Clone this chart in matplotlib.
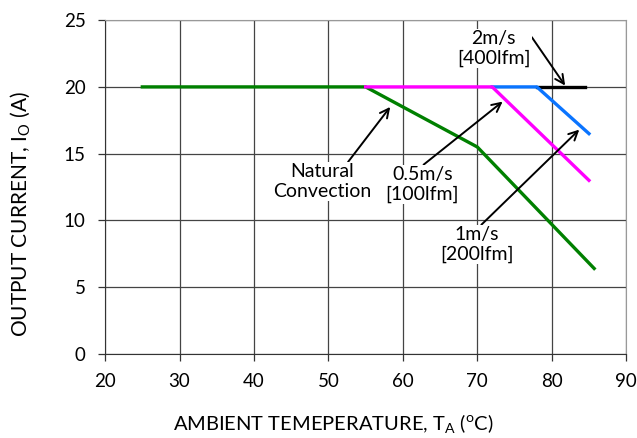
import numpy as np
import matplotlib.pyplot as plt

plt.rcParams['font.family'] = ['Lato', 'DejaVu Sans']
plt.rcParams['mathtext.fontset'] = 'custom'
plt.rcParams['mathtext.rm'] = 'Lato'

# derating curves: ambient temperature (C) vs max output current (A)
nat_t = [25, 55, 70, 85.7]
nat_i = [20, 20, 15.5, 6.4]
ms05_t = [55, 72, 85]
ms05_i = [20, 20, 13]
ms1_t = [72, 78, 85]
ms1_i = [20, 20, 16.5]
ms2_t = [78, 84.5]
ms2_i = [20, 20]

x_ticks = np.arange(20, 91, 10)
y_ticks = np.arange(0, 26, 5)

fig = plt.figure(figsize=(6.37, 4.38), dpi=100)
ax = fig.add_axes([0.165, 0.192, 0.818, 0.762])

ax.plot(nat_t, nat_i, color='#008000', lw=2.4, zorder=3)
ax.plot(ms2_t, ms2_i, color='black', lw=2.4, zorder=3)
ax.plot(ms1_t, ms1_i, color='#0a74ff', lw=2.4, zorder=3)
ax.plot(ms05_t, ms05_i, color='#ff00ff', lw=2.4, zorder=3)

ax.set_xlim(20, 90)
ax.set_ylim(0, 25)
ax.set_xticks(x_ticks)
ax.set_yticks(y_ticks)
ax.grid(True, color='#444444', lw=0.9)
ax.tick_params(labelsize=13.5, length=5, width=0.9, color='#333333', pad=9)
for side in ['top', 'right']:
    ax.spines[side].set_color('#999999')
for side in ['left', 'bottom']:
    ax.spines[side].set_color('#333333')

ax.set_ylabel(r'OUTPUT CURRENT, I$_\mathregular{O}$ (A)', fontsize=15)
ax.yaxis.set_label_coords(-0.138, 0.42)
ax.set_xlabel(r'AMBIENT TEMEPERATURE, T$_\mathregular{A}$ ($^\mathregular{o}$C)', fontsize=14.5)
ax.xaxis.set_label_coords(0.438, -0.176)

arr = dict(arrowstyle='->', color='black', lw=1.4, mutation_scale=16)
txt = dict(ha='center', va='center', fontsize=14, linespacing=1.2,
           bbox=dict(fc='white', ec='none', pad=1))
ax.annotate('2m/s\n[400lfm]', xy=(81.8, 20.1), xytext=(72.2, 22.9),
            arrowprops=dict(arr, shrinkA=0, shrinkB=0, relpos=(1.0, 0.85)), **txt)
ax.annotate('Natural\nConvection', xy=(58.3, 18.5), xytext=(49.2, 12.9),
            arrowprops=dict(arr, shrinkA=0, shrinkB=0, relpos=(0.75, 1.0)), **txt)
ax.annotate('0.5m/s\n[100lfm]', xy=(73.4, 18.9), xytext=(62.6, 12.7),
            arrowprops=dict(arr, shrinkA=0, shrinkB=0, relpos=(0.5, 1.0)), **txt)
ax.annotate('1m/s\n[200lfm]', xy=(83.7, 16.8), xytext=(69.9, 8.2),
            arrowprops=dict(arr, shrinkA=0, shrinkB=0, relpos=(0.55, 1.0)), **txt)

fig.savefig('out.png', dpi=100)
